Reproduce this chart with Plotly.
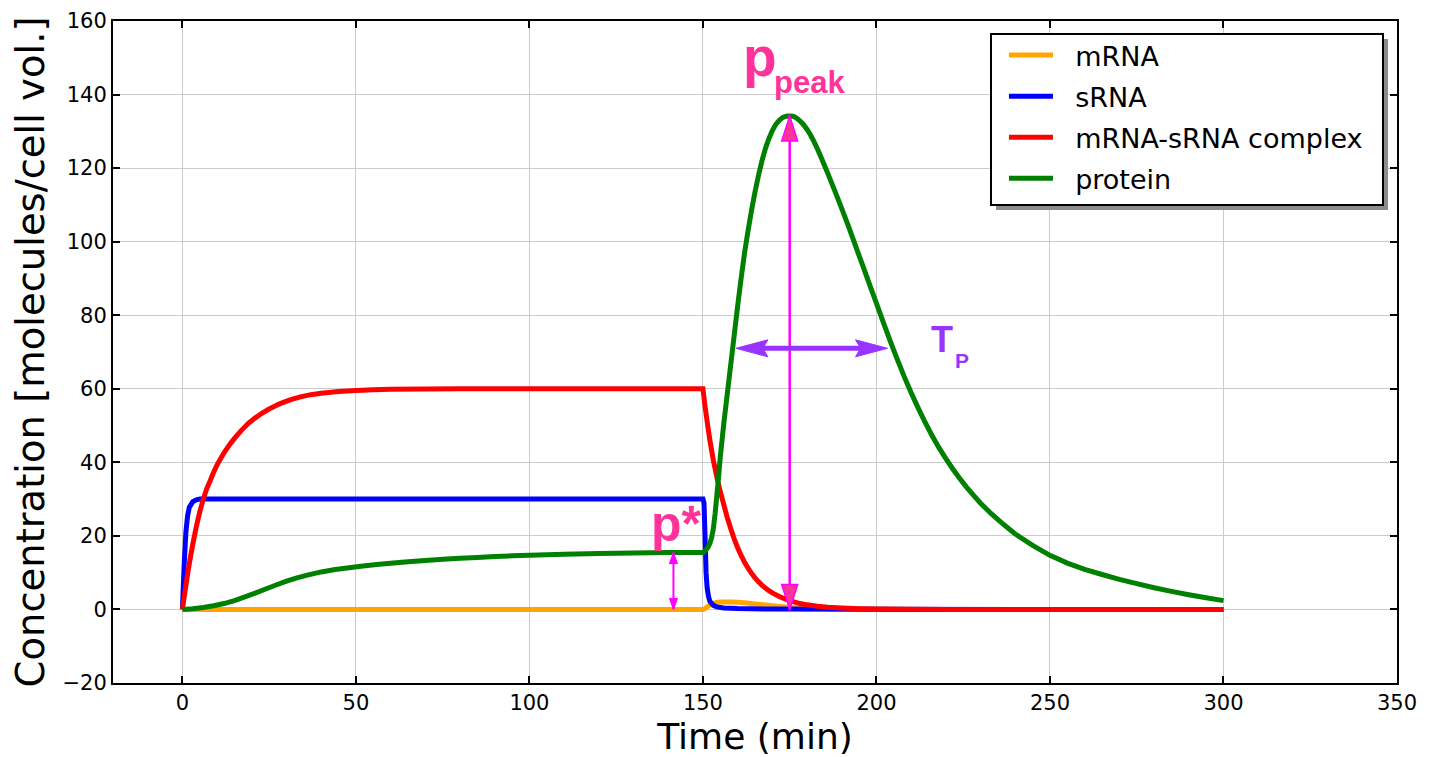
import numpy as np
import plotly.graph_objects as go

# ---------------- data ----------------
t_mrna = [0, 150, 150.5, 151, 151.5, 152, 153, 154, 155, 156, 158, 160, 162, 165, 168,
          170, 173, 176, 180, 185, 190, 200, 210, 300]
mrna = [0, 0, 0.2, 0.5, 0.85, 1.2, 1.65, 1.9, 2.0, 2.05, 2.05, 1.95, 1.8, 1.5, 1.2,
        1.0, 0.75, 0.55, 0.35, 0.2, 0.1, 0.03, 0, 0]

t_srna = [0, 0.5, 1, 1.5, 2, 3, 4, 5, 7, 150, 150.3, 150.6, 150.9, 151.2, 151.6, 152,
          153, 154, 156, 160, 170, 200, 300]
srna = [0, 12, 21, 25.5, 27.8, 29.3, 29.8, 30, 30, 30, 29, 20, 10, 6, 3.5, 2.2,
        1.1, 0.7, 0.4, 0.25, 0.1, 0.02, 0]

t_cplx = [0, 0.5, 1, 1.5, 2, 2.5, 3, 4, 5, 6, 7, 8, 9, 10, 11, 12, 13, 14, 15, 17, 19,
          21, 23, 25, 28, 31, 34, 37, 40, 45, 50, 55, 60, 70, 80, 150,
          150.5, 151, 151.5, 152, 153, 154, 155, 156, 157, 158, 159, 160, 161, 162, 163,
          164, 165, 166, 167, 168, 169, 170, 172, 174, 176, 178, 180, 183, 186, 190, 195,
          200, 210, 220, 300]
cplx = [0, 3.3, 6.5, 9.6, 12.5, 15.2, 17.8, 22.5, 26.5, 30, 32.8, 35, 37.3, 39.3, 41,
        42.6, 44, 45.3, 46.5, 48.7, 50.6, 52.1, 53.4, 54.5, 55.9, 57, 57.8, 58.4, 58.8,
        59.25, 59.55, 59.75, 59.85, 59.95, 60, 60,
        56, 52.5, 49.2, 46, 40.5, 36, 32, 28.5, 25, 22, 19.2, 16.8, 14.7, 12.8, 11.2,
        9.8, 8.6, 7.5, 6.6, 5.8, 5.1, 4.5, 3.5, 2.7, 2.1, 1.6, 1.25, 0.85, 0.6, 0.38, 0.2,
        0.1, 0.03, 0, 0]

t_prot = [0, 3, 6, 9, 12, 15, 18, 21, 24, 27, 30, 33, 36, 40, 44, 48, 52, 56, 60, 65,
          70, 75, 80, 85, 90, 95, 100, 110, 120, 130, 140, 150,
          150.5, 151, 151.5, 152, 152.5, 153, 153.5, 154, 154.5, 155, 156, 157, 158, 159,
          160, 161, 162, 163, 164, 165, 166, 167, 168, 169, 170, 171, 172, 173, 174, 175,
          176, 177, 178, 179, 180, 181, 182, 183, 184, 185, 186, 188, 190, 192, 194, 196,
          198, 200, 202, 204, 206, 208, 210, 212, 214, 216, 218, 220, 222, 224, 226, 228,
          230, 233, 236, 240, 245, 250, 255, 260, 265, 270, 275, 280, 285, 290, 295, 300]
prot = [0, 0.2, 0.55, 1.0, 1.6, 2.4, 3.4, 4.45, 5.55, 6.65, 7.7, 8.6, 9.35, 10.2, 10.85,
        11.35, 11.8, 12.2, 12.55, 12.95, 13.3, 13.62, 13.9, 14.15, 14.38, 14.58, 14.75,
        15.02, 15.22, 15.36, 15.45, 15.5,
        15.8, 16.3, 17, 18, 19.5, 22, 26, 31, 36, 41.5, 50.5, 58.5, 66.5, 74.5,
        82.5, 90, 97, 103, 108.5, 113.5, 118, 122, 125.3, 128, 130.2, 131.9, 133, 133.8,
        134.1, 134.2, 134.1, 133.6, 132.8, 131.8, 130.5, 129, 127.2, 125.2, 123, 120.8,
        118.5, 113.8, 109, 104, 98.8, 93.6, 88.4, 83.2, 78.0, 72.9, 68.0, 63.3, 58.9,
        54.8, 50.9, 47.3, 44.0, 41.0, 38.2, 35.6, 33.2, 31.0, 28.9, 26.1, 23.6, 20.5,
        17.4, 14.7, 12.6, 10.9, 9.5, 8.2, 7.0, 5.9, 4.9, 4.0, 3.2, 2.4]

series_names = ["mRNA", "sRNA", "mRNA-sRNA complex", "protein"]
series_colors = ["#ffa500", "#0000ff", "#ff0000", "#008000"]

x_ticks = [0, 50, 100, 150, 200, 250, 300, 350]
y_ticks = [-20, 0, 20, 40, 60, 80, 100, 120, 140, 160]
y_tick_text = ["\u221220", "0", "20", "40", "60", "80", "100", "120", "140", "160"]

# annotation quantities
i_peak = int(np.argmax(prot))
t_peak = t_prot[i_peak]
p_peak = prot[i_peak]
p_star = float(np.interp(150, t_prot, prot))
t_pstar_arrow = 141.5
tp_level = 71
tp_start, tp_end = 159.5, 203.2

PINK = "#ff3399"
MAGENTA = "#ff00ff"
PURPLE = "#9933ff"

fig = go.Figure()
for tt, yy, name, col in zip([t_mrna, t_srna, t_cplx, t_prot], [mrna, srna, cplx, prot],
                             series_names, series_colors):
    fig.add_trace(go.Scatter(x=tt, y=yy, mode="lines", name="\u00a0\u00a0" + name,
                             legendgroup=name,
                             line=dict(color=col, width=5, simplify=False)))

# legend box (paper coords of the plot area)
bx0, bx1, by0, by1 = 0.6838, 0.9891, 0.7221, 0.9804
shapes = []
shapes.append(dict(type="rect", xref="paper", yref="paper", layer="above",
                   x0=bx0 + 0.0039, x1=bx1 + 0.0039, y0=by0 - 0.0076, y1=by1 - 0.0076,
                   fillcolor="#8c8c8c", line=dict(width=0)))
shapes.append(dict(type="rect", xref="paper", yref="paper", layer="above",
                   x0=bx0, x1=bx1, y0=by0, y1=by1,
                   fillcolor="white", line=dict(color="black", width=2)))

# peak arrow
shapes.append(dict(type="line", xref="x", yref="y", x0=t_peak, x1=t_peak, y0=0, y1=p_peak,
                   line=dict(color=MAGENTA, width=2.5), layer="above"))
for anchor, path in [(p_peak, "M0,0 L-8,-25 L8,-25 Z"), (0, "M0,0 L-8,25 L8,25 Z")]:
    shapes.append(dict(type="path", xref="x", yref="y", xsizemode="pixel", ysizemode="pixel",
                       xanchor=t_peak, yanchor=anchor, path=path, fillcolor=PINK,
                       line=dict(color=MAGENTA, width=1.5), layer="above"))
# p* arrow
shapes.append(dict(type="line", xref="x", yref="y", x0=t_pstar_arrow, x1=t_pstar_arrow,
                   y0=0, y1=p_star, line=dict(color=MAGENTA, width=2), layer="above"))
for anchor, path in [(p_star, "M0,0 L-4,-11 L4,-11 Z"), (0, "M0,0 L-4,11 L4,11 Z")]:
    shapes.append(dict(type="path", xref="x", yref="y", xsizemode="pixel", ysizemode="pixel",
                       xanchor=t_pstar_arrow, yanchor=anchor, path=path, fillcolor=MAGENTA,
                       line=dict(color=MAGENTA, width=1), layer="above"))
# T_P arrow
shapes.append(dict(type="line", xref="x", yref="y", x0=tp_start + 4, x1=tp_end - 4,
                   y0=tp_level, y1=tp_level, line=dict(color=PURPLE, width=5), layer="above"))
for anchor, path in [(tp_start, "M0,0 L32,8.5 L27,0 L32,-8.5 Z"),
                     (tp_end, "M0,0 L-32,8.5 L-27,0 L-32,-8.5 Z")]:
    shapes.append(dict(type="path", xref="x", yref="y", xsizemode="pixel", ysizemode="pixel",
                       xanchor=anchor, yanchor=tp_level, path=path, fillcolor=PURPLE,
                       line=dict(color=PURPLE, width=1), layer="above"))

bold = "Liberation Sans"
annotations = [
    dict(x=166.3, y=150.3, xref="x", yref="y", text="<b>p</b>", showarrow=False,
         font=dict(family=bold, size=55, color=PINK)),
    dict(x=180.7, y=143.3, xref="x", yref="y", text="<b>peak</b>", showarrow=False,
         font=dict(family=bold, size=31, color=PINK)),
    dict(x=142.3, y=23.2, xref="x", yref="y", text="<b>p*</b>", showarrow=False,
         font=dict(family=bold, size=50, color=PINK)),
    dict(x=219, y=73.4, xref="x", yref="y", text="<b>T</b>", showarrow=False,
         font=dict(family=bold, size=36, color=PURPLE)),
    dict(x=224.6, y=67.6, xref="x", yref="y", text="<b>P</b>", showarrow=False,
         font=dict(family=bold, size=21, color=PURPLE)),
]

axis_common = dict(showgrid=True, gridcolor="#cccccc", gridwidth=1, zeroline=False,
                   showline=True, linecolor="black", linewidth=2, mirror="ticks",
                   ticks="inside", ticklen=7, tickwidth=1.5, tickcolor="black",
                   tickfont=dict(family="DejaVu Sans", size=21, color="black"))

# page body has an 8px margin: size and margins compensate so the plot area
# lands at x 113-1397, y 21-683 of the window
fig.update_layout(
    width=1426, height=749,
    margin=dict(l=105, r=37, t=13, b=74, autoexpand=False),
    paper_bgcolor="white", plot_bgcolor="white",
    xaxis=dict(range=[-20, 350], tickvals=x_ticks, ticktext=[str(v) for v in x_ticks],
               title=dict(text="Time (min)", font=dict(family="DejaVu Sans", size=36, color="black"),
                          standoff=10),
               **axis_common),
    yaxis=dict(range=[-20, 160], tickvals=y_ticks, ticktext=y_tick_text,
               title=dict(text="Concentration [molecules/cell vol.]",
                          font=dict(family="DejaVu Sans", size=38.5, color="black"), standoff=6),
               **axis_common),
    showlegend=True,
    legend=dict(x=0.6939, y=by1 + 0.0045, xanchor="left", yanchor="top", bgcolor="rgba(0,0,0,0)",
                borderwidth=0, font=dict(family="DejaVu Sans", size=27, color="black"),
                tracegroupgap=3, itemwidth=44, traceorder="grouped"),
    shapes=shapes,
    annotations=annotations,
)

fig.write_html("out.html")
